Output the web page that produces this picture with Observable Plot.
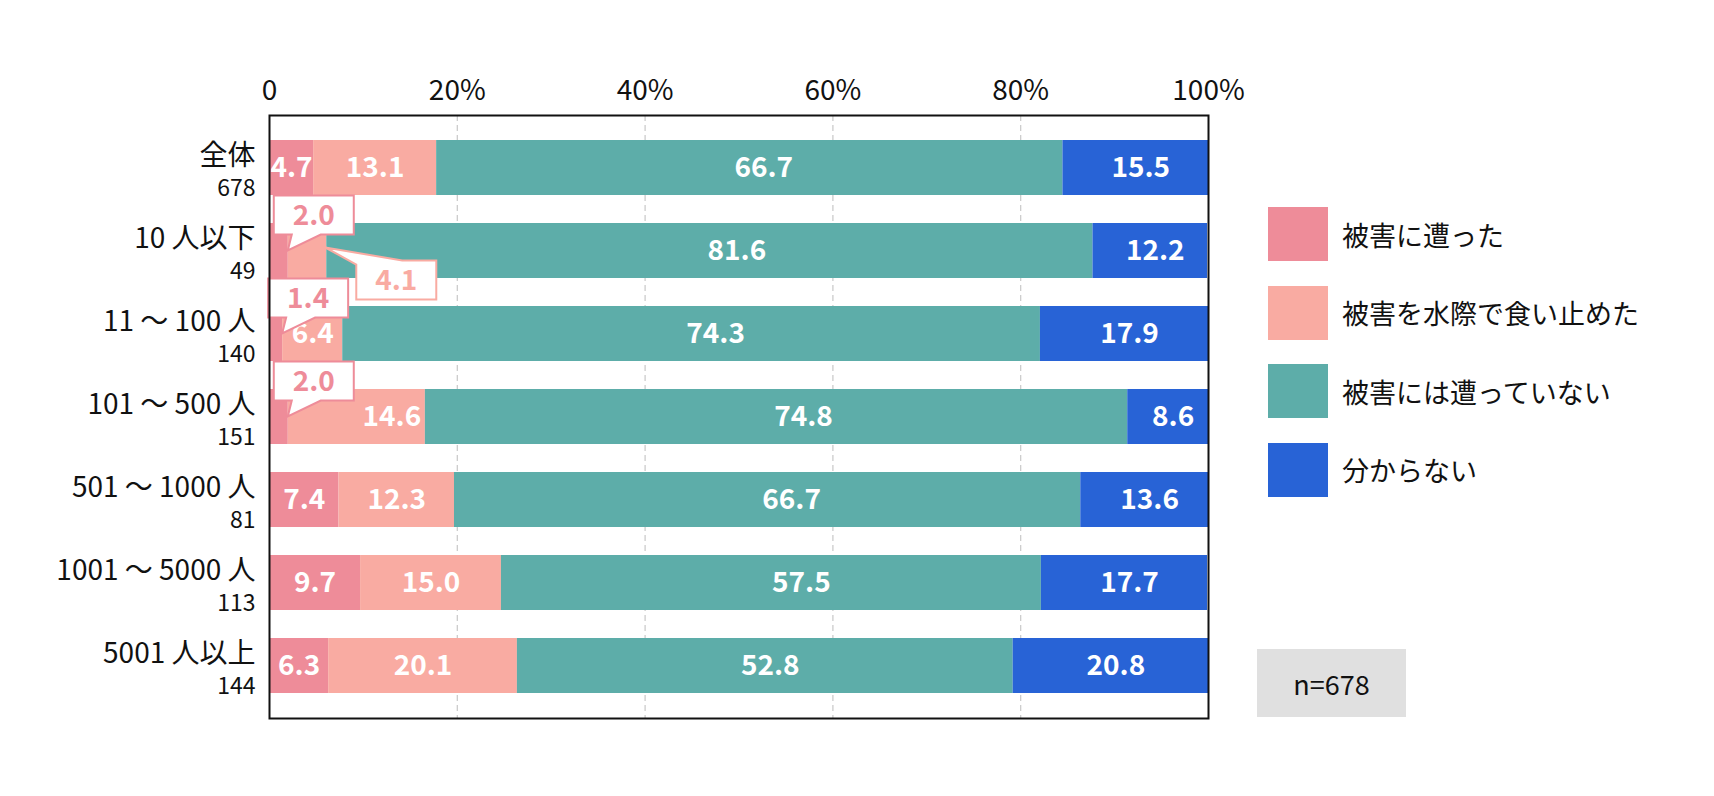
<!DOCTYPE html>
<html><head><meta charset="utf-8">
<script src="https://cdn.jsdelivr.net/npm/d3@7"></script>
<script src="https://cdn.jsdelivr.net/npm/@observablehq/plot@0.6"></script>
<style>
body{margin:0;background:#fff;font-family:"Noto Sans CJK JP","Noto Sans",sans-serif;}
#wrap{position:relative;width:1714px;height:796px;overflow:hidden;}
#legend{position:absolute;left:1268px;top:207px;}
.item{display:flex;align-items:center;height:54px;margin-bottom:24.5px;}
.sw{width:60px;height:54px;margin-right:14px;}
.lab{font-size:27px;color:#111;white-space:nowrap;}
#nbox{position:absolute;left:1257px;top:649px;width:149px;height:68px;background:#e0e0e0;display:flex;align-items:center;justify-content:center;font-size:27px;color:#111;}
</style></head><body><div id="wrap"></div>
<script>
const categories = ["全体","10 人以下","11 〜 100 人","101 〜 500 人","501 〜 1000 人","1001 〜 5000 人","5001 人以上"];
const counts = ["678","49","140","151","81","113","144"];
const seriesNames = ["被害に遭った","被害を水際で食い止めた","被害には遭っていない","分からない"];
const damaged    = [4.7, 2.0, 1.4, 2.0, 7.4, 9.7, 6.3];
const stopped    = [13.1, 4.1, 6.4, 14.6, 12.3, 15.0, 20.1];
const notDamaged = [66.7, 81.6, 74.3, 74.8, 66.7, 57.5, 52.8];
const unknown    = [15.5, 12.2, 17.9, 8.6, 13.6, 17.7, 20.8];
const xTicks = [0, 20, 40, 60, 80, 100];
const colors = ["#EE8C99", "#F9ABA2", "#5DADA9", "#2863D6"];
const sampleNote = "n=678";
// values shown in callouts instead of on the bar: [category index, series index]
const calloutCells = [[1, 0], [1, 1], [2, 0], [3, 0]];

const seriesValues = [damaged, stopped, notDamaged, unknown];
const placement = ["above", "belowRight", "above", "above"];
const isCallout = (i, j) => calloutCells.some(([a, b]) => a === i && b === j);

// label nudges in pixels (style): teal labels per row, one salmon label, blue labels
const tealNudge = [14, 27, 24, 27, 24, 30, 5];
function labelDx(i, j) {
  if (j === 2) return tealNudge[i];
  if (j === 1 && i === 3) return 35;
  if (j === 3) return 5;
  return 0;
}

const rows = categories.flatMap((cat, i) => {
  let acc = 0;
  return seriesNames.map((series, j) => {
    const value = seriesValues[j][i];
    const x1 = acc; acc += value;
    return {cat, series, value, x1, x2: acc, mid: (x1 + acc) / 2, callout: isCallout(i, j), dx: labelDx(i, j)};
  });
});

const FONT = "'Noto Sans CJK JP','Noto Sans',sans-serif";

function calloutMark(index, scales, values, dimensions) {
  const ns = "http://www.w3.org/2000/svg";
  const g = document.createElementNS(ns, "g");
  let bw = 55;
  if (scales.y && typeof scales.y.bandwidth === "function") bw = scales.y.bandwidth();
  else if (scales.scales && scales.scales.y && scales.scales.y.bandwidth) bw = scales.scales.y.bandwidth;
  calloutCells.forEach(([i, j], k) => {
    const cat = categories[i];
    let end = 0;
    for (let s = 0; s <= j; s++) end += seriesValues[s][i];
    const tipX = scales.x(end);
    const yc = scales.y(cat) + bw / 2;
    const w = 80, h = 39;
    let d, L, T;
    if (placement[k] === "above") {
      const tipY = yc;
      L = tipX - 14; const B = tipY - 16; T = B - h;
      d = `M${L},${T}H${L + w}V${B}H${L + 47}L${tipX},${tipY}L${L + 18},${B}H${L}Z`;
    } else {
      const tipX2 = tipX - 1, tipY = yc - 3;
      L = tipX + 30; T = tipY + 13;
      d = `M${L + 46},${T}H${L + w}V${T + h}H${L}V${T + 4}L${tipX2},${tipY}Z`;
    }
    const p = document.createElementNS(ns, "path");
    p.setAttribute("d", d);
    p.setAttribute("fill", "#fff");
    p.setAttribute("stroke", colors[j]);
    p.setAttribute("stroke-width", "2");
    g.appendChild(p);
    const t = document.createElementNS(ns, "text");
    t.setAttribute("x", L + w / 2);
    t.setAttribute("y", T + h / 2);
    t.setAttribute("dy", "0.36em");
    t.setAttribute("text-anchor", "middle");
    t.setAttribute("font-size", "28");
    t.setAttribute("font-weight", "bold");
    t.setAttribute("fill", colors[j]);
    t.textContent = seriesValues[j][i].toFixed(1);
    g.appendChild(t);
  });
  return g;
}

const dxGroups = Array.from(new Set(rows.map(r => r.dx)));

const chart = Plot.plot({
  width: 1714,
  height: 796,
  marginLeft: 269,
  marginRight: 506,
  marginTop: 115,
  marginBottom: 78,
  style: {fontFamily: FONT, fontSize: "27px", color: "#111", background: "transparent"},
  x: {domain: [0, 100], axis: null},
  y: {domain: categories, paddingInner: 0.343, paddingOuter: 0.263, axis: null},
  color: {domain: seriesNames, range: colors},
  marks: [
    Plot.gridX(xTicks.slice(1, -1), {stroke: "#c8c8c8", strokeOpacity: 1, strokeWidth: 1.2, strokeDasharray: "6,4"}),
    Plot.axisX(xTicks, {anchor: "top", tickSize: 0, tickPadding: 16, fontSize: 28, label: null,
      tickFormat: d => d === 0 ? "0" : d + "%"}),
    Plot.barX(rows, {x1: "x1", x2: "x2", y: "cat", fill: "series"}),
    ...dxGroups.map(dx => Plot.text(rows.filter(r => r.dx === dx && !r.callout), {
      x: "mid", y: "cat", dx, text: d => d.value.toFixed(1),
      fill: "white", fontWeight: "bold", fontSize: 28})),
    Plot.text(categories, {y: d => d, frameAnchor: "left", dx: -14, dy: -12, textAnchor: "end", fontSize: 28, fill: "#111", text: d => d}),
    Plot.text(categories, {y: d => d, frameAnchor: "left", dx: -14, dy: 21, textAnchor: "end", fontSize: 23, fill: "#111", text: (d, i) => counts[i]}),
    calloutMark,
    Plot.frame({stroke: "#111", strokeWidth: 2})
  ]
});

const wrap = document.getElementById("wrap");
wrap.appendChild(chart);

const legend = document.createElement("div");
legend.id = "legend";
seriesNames.forEach((s, j) => {
  const it = document.createElement("div");
  it.className = "item";
  const sw = document.createElement("div");
  sw.className = "sw";
  sw.style.background = colors[j];
  const lab = document.createElement("div");
  lab.className = "lab";
  lab.textContent = s;
  it.appendChild(sw); it.appendChild(lab);
  legend.appendChild(it);
});
wrap.appendChild(legend);

const nbox = document.createElement("div");
nbox.id = "nbox";
nbox.textContent = sampleNote;
wrap.appendChild(nbox);
</script>
</body></html>
